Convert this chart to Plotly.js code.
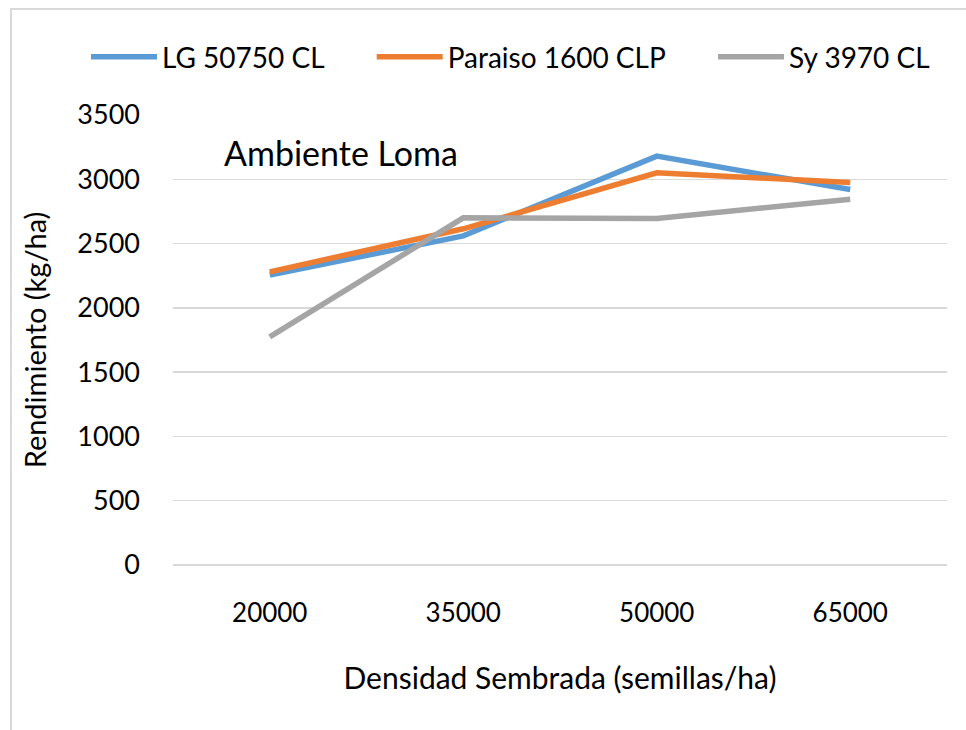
<!DOCTYPE html>
<html><head><meta charset="utf-8">
<script src="https://cdn.plot.ly/plotly-3.0.1.min.js"></script>
<style>
html,body{margin:0;padding:0;background:#fff;}
#wrap{position:relative;width:966px;height:730px;overflow:hidden;}
#frame{position:absolute;left:10px;top:8px;width:980px;height:760px;border:2px solid #d9d9d9;box-sizing:border-box;pointer-events:none;}
#chart{position:absolute;left:0;top:0;width:966px;height:730px;}
</style></head>
<body><div id="wrap"><div id="chart"></div><div id="frame"></div></div>
<script>
const categories = ["20000","35000","50000","65000"];
const lgValues = [2255, 2560, 3180, 2920];
const paraisoValues = [2280, 2615, 3050, 2975];
const syValues = [1775, 2700, 2695, 2845];
const seriesNames = ["LG 50750 CL","Paraiso 1600 CLP","Sy 3970 CL"];
const yTicks = [0,500,1000,1500,2000,2500,3000,3500];

const FONT = "Lato, 'Open Sans', sans-serif";
const colors = ["#5B9BD5","#ED7D31","#A5A5A5"];
const pad = "\u00a0\u00a0\u00a0\u00a0\u00a0\u00a0";
const vals = [lgValues, paraisoValues, syValues];
const traces = vals.map((v,i)=>({
  type:"scatter", mode:"lines", x:categories, y:v,
  name: seriesNames[i] + (i < vals.length-1 ? pad : ""),
  line:{color:colors[i], width:5.5}
}));

const layout = {
  width:966, height:730,
  margin:{l:173, r:19, t:115, b:165},
  paper_bgcolor:"#fff", plot_bgcolor:"#fff",
  font:{family:FONT, size:26, color:"#000"},
  showlegend:true,
  legend:{orientation:"h", x:(86-173)/774, xanchor:"left", y:1.129, yanchor:"middle",
    font:{family:FONT, size:28, color:"#000"}, itemwidth:66, traceorder:"normal"},
  xaxis:{type:"category", range:[-0.5,3.5], showgrid:false, zeroline:false, showline:false,
    ticks:"", tickfont:{family:FONT,size:26}, ticklabelstandoff:30,
    title:{text:"Densidad Sembrada (semillas/ha)", font:{family:FONT,size:30}, standoff:40}},
  yaxis:{range:[0,3500], tickvals:yTicks, ticktext:yTicks.map(String), showgrid:true,
    gridcolor:"#d9d9d9", gridwidth:1.5, zeroline:true, zerolinecolor:"#d9d9d9", zerolinewidth:1.5,
    showline:false, ticks:"", tickfont:{family:FONT,size:27}, ticklabelstandoff:32,
    title:{text:"Rendimiento (kg/ha)", font:{family:FONT,size:29}, standoff:22}},
  annotations:[{text:"Ambiente Loma", xref:"paper", yref:"paper", x:(222-173)/774, y:1-(152-115)/450,
    xanchor:"left", yanchor:"middle", showarrow:false, font:{family:FONT,size:34,color:"#000"}}]
};
Plotly.newPlot("chart", traces, layout, {displayModeBar:false, staticPlot:true});
</script></body></html>
